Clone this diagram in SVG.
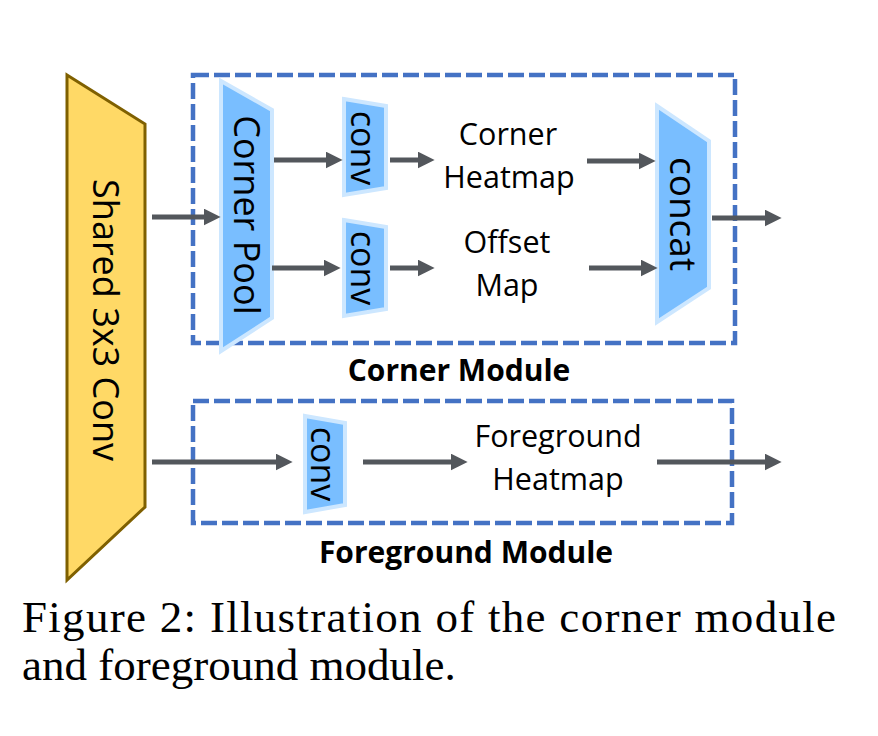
<svg xmlns="http://www.w3.org/2000/svg" width="878" height="736" viewBox="0 0 878 736">
<defs>
<style>
.lbl{font-family:"Open Sans","Noto Sans","DejaVu Sans",sans-serif;font-size:30.5px;fill:#000;text-anchor:middle}
.vlbl{font-family:"Open Sans","Noto Sans","DejaVu Sans",sans-serif;fill:#000;text-anchor:middle;dominant-baseline:central}
.bold{font-family:"Open Sans","Noto Sans","DejaVu Sans",sans-serif;font-size:30px;font-weight:bold;fill:#000;text-anchor:middle}
.box{fill:none;stroke:#4472C4;stroke-width:4.5;stroke-dasharray:16 5}
.blue{fill:#79BEFF;stroke:#CDE7FF;stroke-width:4;stroke-linejoin:miter}
.arr{stroke:#53575C;stroke-width:5;fill:none;marker-end:url(#ah)}
.cap{font-family:"Liberation Serif","Times New Roman",serif;font-size:45px;fill:#000}
</style>
<marker id="ah" viewBox="0 0 10 10" refX="2" refY="5" markerWidth="3.4" markerHeight="3.4" orient="auto" markerUnits="strokeWidth">
<path d="M0,0 L10,5 L0,10 z" fill="#53575C"/>
</marker>
</defs>
<rect width="878" height="736" fill="#fff"/>

<g id="shared-conv">
<polygon points="67,75 145,124 145,507 67,580" fill="#FFD966" stroke="#7F6000" stroke-width="3"/>
<text class="vlbl" font-size="36" transform="translate(106,320) rotate(90)">Shared 3x3 Conv</text>
</g>

<g id="corner-module">
<rect class="box" x="193" y="75" width="542" height="268"/>
<text class="bold" x="459" y="381">Corner Module</text>
</g>

<g id="corner-pool">
<polygon class="blue" points="221,81 272,110 272,318 221,351"/>
<text class="vlbl" font-size="36" transform="translate(247,215) rotate(90)">Corner Pool</text>
</g>

<g id="conv-top">
<polygon class="blue" points="344,99 386,106 386,188 344,195"/>
<text class="vlbl" font-size="34" transform="translate(364,148) rotate(90)">conv</text>
</g>

<g id="conv-bottom">
<polygon class="blue" points="344,220 386,227 386,309 344,316"/>
<text class="vlbl" font-size="34" transform="translate(364,268) rotate(90)">conv</text>
</g>

<g id="corner-heatmap">
<text class="lbl" x="508" y="145">Corner</text>
<text class="lbl" x="509" y="188">Heatmap</text>
</g>

<g id="offset-map">
<text class="lbl" x="507" y="253">Offset</text>
<text class="lbl" x="507" y="296">Map</text>
</g>

<g id="concat">
<polygon class="blue" points="657,106 709,141 709,288 657,322"/>
<text class="vlbl" font-size="37" transform="translate(684,214) rotate(90)">concat</text>
</g>

<g id="foreground-module">
<rect class="box" x="193" y="401" width="539" height="122"/>
<text class="bold" x="466" y="563">Foreground Module</text>
</g>

<g id="conv-fg">
<polygon class="blue" points="305,416 345,423 345,505 305,512"/>
<text class="vlbl" font-size="34" transform="translate(324,464) rotate(90)">conv</text>
</g>

<g id="foreground-heatmap">
<text class="lbl" x="558" y="447">Foreground</text>
<text class="lbl" x="558" y="490">Heatmap</text>
</g>

<g id="connectors">
<line class="arr" x1="152" y1="217" x2="207" y2="217"/>
<line class="arr" x1="274" y1="160" x2="329" y2="160"/>
<line class="arr" x1="272" y1="268" x2="327" y2="268"/>
<line class="arr" x1="390" y1="160" x2="421" y2="160"/>
<line class="arr" x1="390" y1="268" x2="421" y2="268"/>
<line class="arr" x1="587" y1="161" x2="642" y2="161"/>
<line class="arr" x1="589" y1="268" x2="644" y2="268"/>
<line class="arr" x1="712" y1="218" x2="768" y2="218"/>
<line class="arr" x1="152" y1="462" x2="279" y2="462"/>
<line class="arr" x1="363" y1="462" x2="454" y2="462"/>
<line class="arr" x1="657" y1="462" x2="768" y2="462"/>
</g>

<g id="caption">
<text class="cap" x="22" y="632" textLength="814" lengthAdjust="spacing">Figure 2: Illustration of the corner module</text>
<text class="cap" x="22" y="680">and foreground module.</text>
</g>
</svg>
